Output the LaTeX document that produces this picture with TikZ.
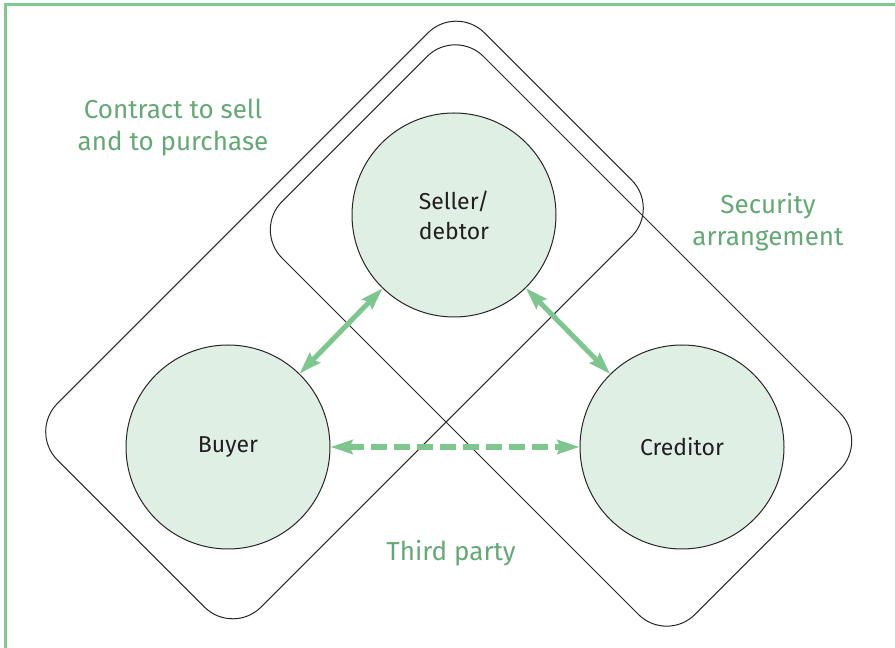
\documentclass[tikz,border=0pt]{standalone}
\usepackage{fontspec}
\setmainfont{Fira Sans}
\usetikzlibrary{arrows.meta, positioning}
\definecolor{framegreen}{RGB}{128, 202, 146}
\definecolor{arrowgreen}{RGB}{125, 199, 143}
\definecolor{textgreen}{RGB}{100, 168, 118}
\definecolor{partyfill}{RGB}{224, 239, 227}
\definecolor{partytext}{RGB}{35, 31, 32}
\tikzset{
    party/.style={
        circle, minimum size=102pt, draw=black!85, fill=partyfill, text=partytext,
        font=\fontsize{11.5}{15}\selectfont, align=center, line width=0.5pt
    },
    deal/.style={rectangle, rounded corners=20pt, draw=black!85, line width=0.5pt},
    link/.style={{Stealth[length=11pt,width=7pt,inset=1.5pt]}-{Stealth[length=11pt,width=7pt,inset=1.5pt]}, line width=2.5pt, color=arrowgreen},
    dashlink/.style={link, line width=2.8pt, dash pattern=on 8pt off 3.5pt},
    tag/.style={font=\fontsize{13}{16}\selectfont, text=textgreen, align=center},
}

\begin{document}
\begin{tikzpicture}[x=0.5pt, y=0.5pt]
    \useasboundingbox (0,0) rectangle (895,648);
    \draw[framegreen, line width=1.5pt] (5,0) -- (5,643) -- (895,643);

    \node[deal, rotate=45, minimum width=302pt, minimum height=144pt] (sale) at (344.5, 328) {};
    \node[deal, rotate=-45, minimum width=292pt, minimum height=142.5pt] (security) at (561, 312.5) {};

    \node[party] (seller) at (454, 433) {Seller/\\debtor};
    \node[party] (buyer) at (228, 201) {Buyer};
    \node[party] (creditor) at (682, 201) {Creditor};

    \draw[link] (buyer) -- (seller);
    \draw[link] (seller) -- (creditor);
    \draw[dashlink] (buyer) -- (creditor);

    \node[tag] (saletag) at (173, 520) {Contract to sell\\and to purchase};
    \node[tag] (securitytag) at (768, 426) {Security\\arrangement};
    \node[tag] (thirdtag) at (451, 95) {Third party};
\end{tikzpicture}
\end{document}
